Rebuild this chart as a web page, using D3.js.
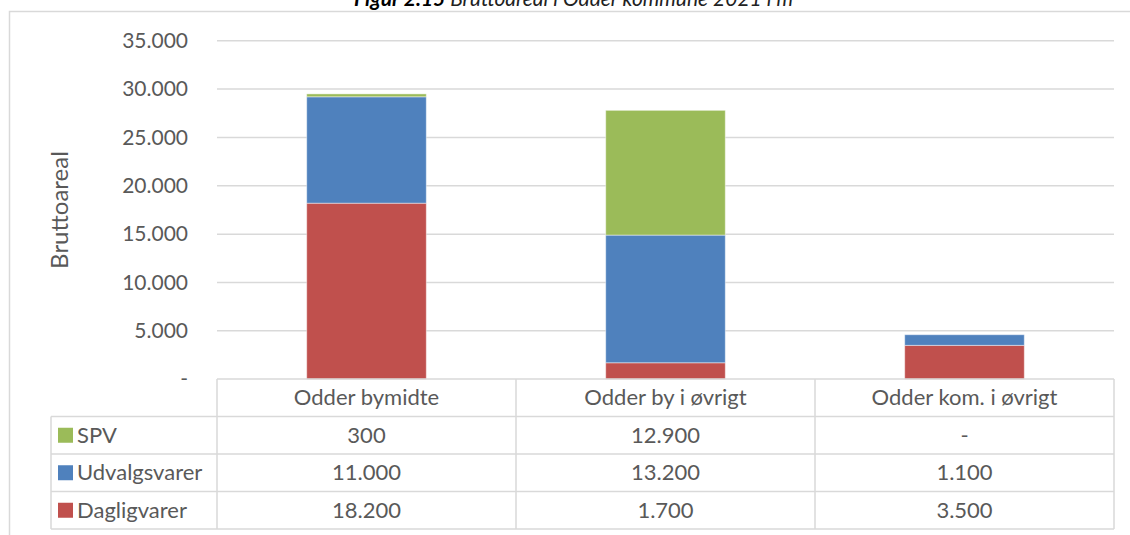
<!DOCTYPE html>
<html><head><meta charset="utf-8">
<script src="https://cdn.jsdelivr.net/npm/d3@7"></script>
<style>
html,body{margin:0;padding:0;background:#fff;}
text{font-family:Lato, "Open Sans", sans-serif;fill:#595959;}
</style></head>
<body>
<svg id="c" width="1130" height="535"></svg>
<script>
const categories = ["Odder bymidte", "Odder by i øvrigt", "Odder kom. i øvrigt"];
const dagligvarer = [18200, 1700, 3500];
const udvalgsvarer = [11000, 13200, 1100];
const spv = [300, 12900, 0];
const yTicks = [0, 5000, 10000, 15000, 20000, 25000, 30000, 35000];
const seriesNames = ["Dagligvarer", "Udvalgsvarer", "SPV"];
const seriesColors = ["#C0504D", "#4F81BD", "#9BBB59"];
const titleBold = "Figur 2.15";
const titleRest = " Bruttoareal i Odder kommune 2021 i m²";
const yLabel = "Bruttoareal";

const seriesValues = [dagligvarer, udvalgsvarer, spv];
const loc = d3.formatLocale({decimal: ",", thousands: ".", grouping: [3], currency: ["", ""]});
const fmt = v => v === 0 ? "-" : loc.format(",.0f")(v);

const svg = d3.select("#c");
const grid = "#D9D9D9";

// chart frame
svg.append("rect").attr("x", 9.5).attr("y", 11.5).attr("width", 1300).attr("height", 700)
  .attr("fill", "none").attr("stroke", grid).attr("stroke-width", 1.5);

// title (cut off at top, as in the reference)
const t = svg.append("text").attr("x", 577).attr("y", 6).attr("text-anchor", "middle")
  .style("font-size", "21px").style("font-style", "italic").style("fill", "#000");
t.append("tspan").style("font-weight", "bold").text(titleBold);
t.append("tspan").style("fill", "#222").text(titleRest);

const x = d3.scaleBand().domain(categories).range([217, 1114]).paddingInner(0).paddingOuter(0);
const y = d3.scaleLinear().domain([0, 35000]).range([379.2, 40.7]);

// gridlines
svg.append("g").selectAll("line").data(yTicks.filter(d => d > 0)).join("line")
  .attr("x1", 217).attr("x2", 1114).attr("y1", d => y(d)).attr("y2", d => y(d))
  .attr("stroke", grid).attr("stroke-width", 1.5);

// y axis labels
const yAxis = d3.axisLeft(y).tickValues(yTicks).tickFormat(fmt).tickSize(0).tickPadding(0);
const ya = svg.append("g").attr("transform", "translate(188,0)").call(yAxis);
ya.select(".domain").remove();
ya.selectAll("text").style("font-size", "21px").attr("fill", "#595959")
  .style("font-family", "Lato, 'Open Sans', sans-serif");

// y label
svg.append("text").attr("transform", "translate(68,210) rotate(-90)").attr("text-anchor", "middle")
  .style("font-size", "24px").text(yLabel);

// stacked bars
const table = categories.map((c, i) => {
  const o = {cat: c};
  seriesNames.forEach((s, k) => o[s] = seriesValues[k][i]);
  return o;
});
const stack = d3.stack().keys(seriesNames)(table);
const bw = x.bandwidth() * 0.4;
svg.append("g").selectAll("g").data(stack).join("g").attr("fill", (d, i) => seriesColors[i])
  .selectAll("rect").data(d => d.filter(p => p[1] - p[0] > 0)).join("rect")
  .attr("x", d => x(d.data.cat) + (x.bandwidth() - bw) / 2)
  .attr("width", bw)
  .attr("y", d => y(d[1]))
  .attr("height", d => y(d[0]) - y(d[1]))
  .attr("stroke", "rgba(255,255,255,0.45)").attr("stroke-width", 1);

// data table
const rowTops = [379, 416.5, 454, 491.5, 529];
const left = 51;
const tg = svg.append("g");
function line(x1, y1, x2, y2) {
  tg.append("line").attr("x1", x1).attr("y1", y1).attr("x2", x2).attr("y2", y2)
    .attr("stroke", grid).attr("stroke-width", 1.5);
}
line(217, rowTops[0], 1114, rowTops[0]);
for (let r = 1; r < rowTops.length; r++) line(left, rowTops[r], 1114, rowTops[r]);
line(left, rowTops[1], left, rowTops[4]);
line(217, rowTops[0], 217, rowTops[4]);
categories.forEach(c => line(x(c) + x.bandwidth(), rowTops[0], x(c) + x.bandwidth(), rowTops[4]));

const fs = "22px";
// header
categories.forEach(c => {
  tg.append("text").attr("x", x(c) + x.bandwidth() / 2).attr("y", (rowTops[0] + rowTops[1]) / 2)
    .attr("dy", "0.35em").attr("text-anchor", "middle").style("font-size", fs).text(c);
});
// rows: SPV, Udvalgsvarer, Dagligvarer
const rowOrder = [2, 1, 0];
rowOrder.forEach((k, r) => {
  const cy = (rowTops[r + 1] + rowTops[r + 2]) / 2;
  tg.append("rect").attr("x", 58).attr("y", cy - 7.5).attr("width", 15).attr("height", 15)
    .attr("fill", seriesColors[k]);
  tg.append("text").attr("x", 77).attr("y", cy).attr("dy", "0.35em")
    .style("font-size", fs).text(seriesNames[k]);
  categories.forEach((c, i) => {
    tg.append("text").attr("x", x(c) + x.bandwidth() / 2).attr("y", cy).attr("dy", "0.35em")
      .attr("text-anchor", "middle").style("font-size", fs).text(fmt(seriesValues[k][i]));
  });
});
</script>
</body></html>
